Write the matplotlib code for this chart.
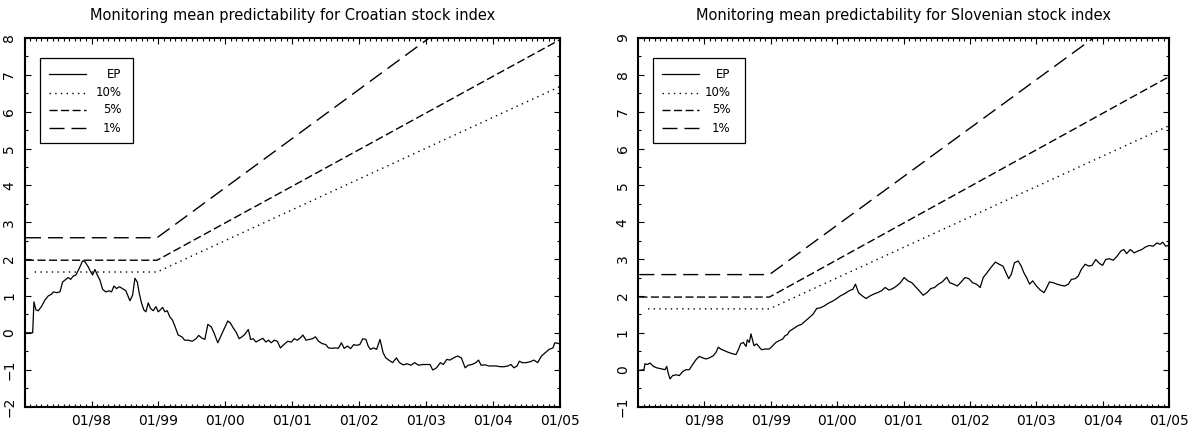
import matplotlib
matplotlib.use("Agg")
import matplotlib.pyplot as plt
from matplotlib.ticker import MultipleLocator, FixedLocator
from matplotlib.patches import Rectangle

plt.rcParams['font.family'] = ['DejaVu Sans']

# x axis: fractional years
tick_years = [1998, 1999, 2000, 2001, 2002, 2003, 2004, 2005]
tick_labels = ['01/98', '01/99', '01/00', '01/01', '01/02', '01/03', '01/04', '01/05']

# monitoring boundaries (flat until start of monitoring, then linear)
bound_years = [1997.02, 1998.98, 2005.0]
bound10_years = [1997.15, 1998.98, 2005.0]
cro_b10 = [1.65, 1.65, 6.68]
cro_b5 = [1.97, 1.97, 7.95]
cro_b1 = [2.58, 2.58, 10.6]
slo_b10 = [1.65, 1.65, 6.62]
slo_b5 = [1.97, 1.97, 7.95]
slo_b1 = [2.58, 2.58, 10.5]

# Croatian EP statistic
cro_years = [
    1997.02, 1997.12, 1997.139, 1997.169, 1997.204, 1997.254, 1997.303, 1997.353,
    1997.403, 1997.428, 1997.478, 1997.528, 1997.568, 1997.617, 1997.652, 1997.687,
    1997.727, 1997.767, 1997.817, 1997.866, 1997.901, 1997.951, 1997.986, 1998.016,
    1998.051, 1998.086, 1998.126, 1998.166, 1998.215, 1998.265, 1998.300, 1998.335,
    1998.375, 1998.415, 1998.464, 1998.514, 1998.549, 1998.574, 1998.614, 1998.649,
    1998.684, 1998.714, 1998.749, 1998.783, 1998.813, 1998.848, 1998.883, 1998.923,
    1998.963, 1998.998, 1999.033, 1999.063, 1999.097, 1999.132, 1999.172, 1999.212,
    1999.247, 1999.296, 1999.352, 1999.392, 1999.449, 1999.506, 1999.563, 1999.603,
    1999.648, 1999.694, 1999.740, 1999.791, 1999.831, 1999.888, 1999.934, 1999.991,
    2000.037, 2000.076, 2000.116, 2000.162, 2000.208, 2000.248, 2000.288, 2000.345,
    2000.379, 2000.419, 2000.459, 2000.505, 2000.562, 2000.607, 2000.647, 2000.687,
    2000.733, 2000.779, 2000.824, 2000.876, 2000.933, 2000.990, 2001.030, 2001.075,
    2001.121, 2001.161, 2001.207, 2001.258, 2001.304, 2001.349, 2001.395, 2001.446,
    2001.503, 2001.543, 2001.600, 2001.646, 2001.692, 2001.737, 2001.777, 2001.829,
    2001.874, 2001.920, 2001.960, 2002.011, 2002.057, 2002.103, 2002.137, 2002.171,
    2002.217, 2002.263, 2002.314, 2002.360, 2002.400, 2002.445, 2002.502, 2002.559,
    2002.605, 2002.662, 2002.719, 2002.776, 2002.833, 2002.890, 2002.948, 2003.005,
    2003.062, 2003.102, 2003.159, 2003.216, 2003.261, 2003.313, 2003.358, 2003.415,
    2003.473, 2003.530, 2003.587, 2003.632, 2003.689, 2003.747, 2003.787, 2003.826,
    2003.883, 2003.941, 2003.998, 2004.055, 2004.112, 2004.169, 2004.226, 2004.272,
    2004.317, 2004.363, 2004.397, 2004.443, 2004.500, 2004.568, 2004.614, 2004.671,
    2004.728, 2004.785, 2004.843, 2004.900, 2004.928, 2004.985,
]
cro_ep = [
    0.00, 0.00, 0.84, 0.62, 0.60, 0.72, 0.89, 1.00,
    1.05, 1.11, 1.09, 1.11, 1.38, 1.45, 1.50, 1.45,
    1.54, 1.57, 1.75, 1.95, 1.93, 1.79, 1.66, 1.57,
    1.72, 1.57, 1.43, 1.18, 1.11, 1.14, 1.11, 1.27,
    1.20, 1.25, 1.20, 1.14, 0.98, 0.87, 1.02, 1.48,
    1.38, 1.07, 0.80, 0.62, 0.57, 0.81, 0.66, 0.60,
    0.71, 0.57, 0.63, 0.69, 0.57, 0.60, 0.43, 0.34,
    0.18, -0.06, -0.11, -0.20, -0.20, -0.23, -0.16, -0.07,
    -0.14, -0.18, 0.23, 0.16, 0.00, -0.27, -0.09, 0.14,
    0.32, 0.27, 0.14, 0.02, -0.16, -0.11, -0.05, 0.09,
    -0.18, -0.16, -0.25, -0.20, -0.15, -0.25, -0.20, -0.27,
    -0.20, -0.23, -0.41, -0.32, -0.23, -0.25, -0.16, -0.20,
    -0.14, -0.06, -0.20, -0.18, -0.16, -0.11, -0.23, -0.29,
    -0.32, -0.41, -0.42, -0.41, -0.42, -0.27, -0.42, -0.36,
    -0.43, -0.32, -0.34, -0.32, -0.16, -0.18, -0.36, -0.45,
    -0.41, -0.45, -0.18, -0.54, -0.68, -0.74, -0.81, -0.68,
    -0.81, -0.87, -0.84, -0.88, -0.81, -0.88, -0.86, -0.86,
    -0.86, -1.01, -0.95, -0.81, -0.86, -0.72, -0.74, -0.68,
    -0.63, -0.68, -0.95, -0.88, -0.86, -0.81, -0.74, -0.88,
    -0.87, -0.90, -0.90, -0.90, -0.92, -0.92, -0.90, -0.86,
    -0.95, -0.90, -0.77, -0.81, -0.81, -0.78, -0.74, -0.81,
    -0.63, -0.54, -0.45, -0.41, -0.27, -0.29,
]

# Slovenian EP statistic
slo_years = [
    1997.02, 1997.09, 1997.105, 1997.141, 1997.181, 1997.231, 1997.281, 1997.356,
    1997.407, 1997.432, 1997.457, 1997.482, 1997.522, 1997.572, 1997.622, 1997.673,
    1997.723, 1997.773, 1997.823, 1997.873, 1997.924, 1997.974, 1998.024, 1998.074,
    1998.135, 1998.175, 1998.210, 1998.245, 1998.295, 1998.360, 1998.426, 1998.476,
    1998.511, 1998.546, 1998.586, 1998.627, 1998.647, 1998.677, 1998.702, 1998.727,
    1998.747, 1998.787, 1998.827, 1998.862, 1998.913, 1998.978, 1999.028, 1999.078,
    1999.129, 1999.179, 1999.214, 1999.249, 1999.279, 1999.348, 1999.406, 1999.463,
    1999.520, 1999.577, 1999.635, 1999.692, 1999.749, 1999.806, 1999.864, 1999.932,
    1999.978, 2000.047, 2000.121, 2000.179, 2000.236, 2000.276, 2000.322, 2000.379,
    2000.436, 2000.494, 2000.551, 2000.608, 2000.666, 2000.723, 2000.780, 2000.837,
    2000.895, 2000.952, 2001.009, 2001.066, 2001.124, 2001.181, 2001.238, 2001.296,
    2001.353, 2001.410, 2001.467, 2001.525, 2001.582, 2001.651, 2001.696, 2001.754,
    2001.811, 2001.868, 2001.926, 2001.983, 2002.040, 2002.097, 2002.155, 2002.200,
    2002.258, 2002.315, 2002.384, 2002.441, 2002.498, 2002.544, 2002.584, 2002.624,
    2002.670, 2002.727, 2002.773, 2002.813, 2002.853, 2002.899, 2002.945, 2003.002,
    2003.060, 2003.117, 2003.157, 2003.197, 2003.254, 2003.312, 2003.369, 2003.426,
    2003.483, 2003.529, 2003.587, 2003.632, 2003.678, 2003.735, 2003.793, 2003.839,
    2003.896, 2003.953, 2003.999, 2004.045, 2004.102, 2004.159, 2004.217, 2004.274,
    2004.320, 2004.360, 2004.417, 2004.474, 2004.532, 2004.589, 2004.646, 2004.703,
    2004.761, 2004.818, 2004.864, 2004.904, 2004.950, 2004.990,
]
slo_ep = [
    -0.02, 0.00, 0.16, 0.14, 0.18, 0.09, 0.05, 0.02,
    0.00, 0.09, -0.11, -0.25, -0.16, -0.14, -0.16, -0.05,
    0.00, 0.00, 0.14, 0.27, 0.36, 0.32, 0.29, 0.32,
    0.38, 0.47, 0.61, 0.56, 0.52, 0.47, 0.43, 0.41,
    0.54, 0.70, 0.74, 0.63, 0.81, 0.74, 0.97, 0.79,
    0.65, 0.70, 0.61, 0.54, 0.56, 0.56, 0.65, 0.74,
    0.79, 0.83, 0.92, 0.95, 1.04, 1.12, 1.19, 1.23,
    1.32, 1.41, 1.50, 1.66, 1.68, 1.73, 1.80, 1.86,
    1.91, 2.00, 2.07, 2.14, 2.18, 2.32, 2.09, 2.00,
    1.93, 2.00, 2.05, 2.09, 2.14, 2.23, 2.16, 2.20,
    2.27, 2.36, 2.50, 2.41, 2.36, 2.25, 2.14, 2.02,
    2.09, 2.20, 2.23, 2.32, 2.38, 2.51, 2.36, 2.32,
    2.27, 2.38, 2.50, 2.47, 2.36, 2.32, 2.23, 2.50,
    2.63, 2.77, 2.92, 2.86, 2.81, 2.63, 2.47, 2.59,
    2.90, 2.95, 2.81, 2.63, 2.50, 2.32, 2.41, 2.27,
    2.16, 2.09, 2.23, 2.38, 2.36, 2.32, 2.29, 2.27,
    2.32, 2.45, 2.47, 2.54, 2.72, 2.86, 2.81, 2.83,
    2.99, 2.88, 2.83, 2.99, 3.01, 2.97, 3.08, 3.22,
    3.26, 3.15, 3.26, 3.17, 3.22, 3.26, 3.33, 3.37,
    3.35, 3.44, 3.40, 3.46, 3.35, 3.37,
]

legend_labels = ['EP', '10%', '5%', '1%']

EP_STYLE = dict(color='black', lw=0.9, linestyle='-')
B10_STYLE = dict(color='black', lw=1.0, dashes=(1.0, 3.1))
B5_STYLE = dict(color='black', lw=1.0, dashes=(5.8, 2.5))
B1_STYLE = dict(color='black', lw=1.0, dashes=(10.8, 5.0))


def draw_panel(ax, title, years, ep, b10, b5, b1, ylim, label_x):
    ax.plot(years, ep, **EP_STYLE)
    ax.plot(bound10_years, b10, **B10_STYLE)
    ax.plot(bound_years, b5, **B5_STYLE)
    ax.plot(bound_years, b1, **B1_STYLE)

    ax.set_xlim(1997.0, 2005.0)
    ax.set_ylim(*ylim)
    ax.xaxis.set_major_locator(FixedLocator(tick_years))
    ax.set_xticklabels(tick_labels)
    ax.xaxis.set_minor_locator(MultipleLocator(1 / 12))
    ax.yaxis.set_major_locator(MultipleLocator(1))
    ax.yaxis.set_minor_locator(MultipleLocator(0.5))
    ax.tick_params(which='both', direction='in', top=True, right=True, width=0.8)
    ax.tick_params(which='major', length=4)
    ax.tick_params(which='minor', length=2.5)
    ax.tick_params(axis='x', which='major', pad=5, labelsize=10)
    ax.tick_params(axis='y', which='major', pad=6, labelsize=10, labelrotation=90)
    for lbl in ax.get_yticklabels():
        lbl.set_verticalalignment('center')
    for sp in ax.spines.values():
        sp.set_linewidth(1.5)
    ax.set_title(title, fontsize=10.5, pad=13)

    # legend box
    ax.add_patch(Rectangle((0.029, 0.714), 0.173, 0.233, transform=ax.transAxes,
                           fill=False, lw=0.9, edgecolor='black', zorder=5))
    rows = [0.902, 0.852, 0.805, 0.755]
    styles = [EP_STYLE, B10_STYLE, B5_STYLE, B1_STYLE]
    for y, st, lab in zip(rows, styles, legend_labels):
        ax.plot([0.045, 0.114], [y, y], transform=ax.transAxes, zorder=6, **st)
        ax.text(label_x, y, lab, transform=ax.transAxes, ha='right', va='center',
                fontsize=8.5, zorder=6)


fig = plt.figure(figsize=(12.02, 4.32), dpi=100)
ax1 = fig.add_axes([0.0205, 0.059, 0.4451, 0.853])
ax2 = fig.add_axes([0.5308, 0.059, 0.4418, 0.853])

draw_panel(ax1, 'Monitoring mean predictability for Croatian stock index',
           cro_years, cro_ep, cro_b10, cro_b5, cro_b1, (-2, 8), 0.181)
draw_panel(ax2, 'Monitoring mean predictability for Slovenian stock index',
           slo_years, slo_ep, slo_b10, slo_b5, slo_b1, (-1, 9), 0.174)

fig.savefig('out.png', dpi=100)
